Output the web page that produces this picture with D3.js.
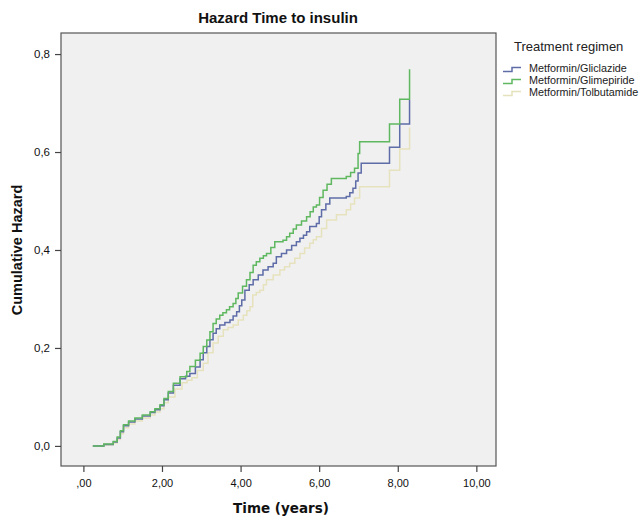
<!DOCTYPE html>
<html><head><meta charset="utf-8">
<script src="https://cdn.jsdelivr.net/npm/d3@7/dist/d3.min.js"></script>
<style>body{margin:0;background:#fff;}svg{display:block;}</style>
</head><body>
<svg id="chart" width="644" height="518"></svg>
<script>
const title = "Hazard Time to insulin";
const xLabel = "Time (years)";
const yLabel = "Cumulative Hazard";
const legendTitle = "Treatment regimen";
const seriesNames = ["Metformin/Gliclazide", "Metformin/Glimepiride", "Metformin/Tolbutamide"];
const xTicks = [0, 2, 4, 6, 8, 10];
const xTickLabels = [",00", "2,00", "4,00", "6,00", "8,00", "10,00"];
const yTicks = [0, 0.2, 0.4, 0.6, 0.8];
const yTickLabels = ["0,0", "0,2", "0,4", "0,6", "0,8"];

// step points [time, cumulative hazard]
const gliclazide = [[0.24,0],[0.52,0.003],[0.76,0.008],[0.86,0.016],[0.94,0.029],[1.02,0.041],[1.15,0.049],[1.31,0.055],[1.50,0.061],[1.70,0.068],[1.82,0.074],[1.95,0.082],[2.05,0.094],[2.16,0.108],[2.29,0.124],[2.46,0.137],[2.60,0.142],[2.71,0.148],[2.85,0.161],[2.97,0.176],[3.05,0.190],[3.14,0.203],[3.22,0.217],[3.30,0.230],[3.38,0.239],[3.47,0.247],[3.60,0.252],[3.73,0.257],[3.81,0.265],[3.90,0.274],[3.97,0.286],[4.03,0.298],[4.11,0.318],[4.22,0.329],[4.32,0.339],[4.45,0.349],[4.57,0.359],[4.70,0.366],[4.83,0.373],[4.91,0.386],[5.04,0.393],[5.17,0.400],[5.30,0.409],[5.42,0.417],[5.51,0.424],[5.60,0.430],[5.68,0.437],[5.76,0.448],[5.93,0.454],[6.00,0.468],[6.06,0.482],[6.17,0.494],[6.27,0.506],[6.69,0.509],[6.78,0.517],[6.86,0.526],[6.93,0.541],[6.99,0.557],[7.07,0.577],[7.79,0.610],[8.05,0.657],[8.30,0.706]];
const glimepiride = [[0.24,0],[0.52,0.004],[0.76,0.009],[0.86,0.018],[0.94,0.031],[1.02,0.043],[1.15,0.051],[1.31,0.057],[1.50,0.063],[1.70,0.070],[1.82,0.076],[1.95,0.084],[2.05,0.097],[2.16,0.111],[2.29,0.128],[2.46,0.141],[2.63,0.152],[2.71,0.162],[2.85,0.175],[2.97,0.189],[3.05,0.203],[3.14,0.216],[3.22,0.233],[3.30,0.250],[3.38,0.259],[3.47,0.267],[3.55,0.272],[3.64,0.278],[3.72,0.284],[3.81,0.291],[3.88,0.301],[3.94,0.312],[4.05,0.326],[4.15,0.339],[4.24,0.354],[4.32,0.369],[4.40,0.376],[4.49,0.383],[4.58,0.388],[4.66,0.393],[4.77,0.405],[4.87,0.417],[5.08,0.420],[5.17,0.427],[5.25,0.434],[5.34,0.443],[5.42,0.451],[5.55,0.459],[5.68,0.468],[5.77,0.478],[5.85,0.488],[5.93,0.492],[6.01,0.507],[6.10,0.522],[6.20,0.534],[6.31,0.546],[6.69,0.550],[6.80,0.558],[6.90,0.567],[6.99,0.597],[7.03,0.621],[7.79,0.657],[8.05,0.708],[8.30,0.769]];
const tolbutamide = [[0.24,0],[0.52,0.002],[0.76,0.006],[0.86,0.013],[0.94,0.025],[1.02,0.037],[1.15,0.045],[1.31,0.051],[1.50,0.057],[1.70,0.063],[1.82,0.069],[1.95,0.076],[2.05,0.088],[2.16,0.100],[2.33,0.116],[2.51,0.129],[2.64,0.134],[2.76,0.139],[2.90,0.154],[3.05,0.169],[3.17,0.190],[3.30,0.210],[3.43,0.224],[3.56,0.237],[3.68,0.242],[3.81,0.247],[3.94,0.257],[4.07,0.267],[4.16,0.276],[4.24,0.284],[4.31,0.308],[4.40,0.313],[4.49,0.318],[4.58,0.329],[4.66,0.339],[4.83,0.349],[5.00,0.359],[5.12,0.366],[5.25,0.373],[5.38,0.383],[5.51,0.393],[5.63,0.404],[5.76,0.414],[5.85,0.421],[5.93,0.427],[6.06,0.444],[6.19,0.461],[6.44,0.472],[6.69,0.482],[6.80,0.494],[6.90,0.506],[7.03,0.529],[7.79,0.563],[8.05,0.606],[8.30,0.650]];

const seriesData = [gliclazide, glimepiride, tolbutamide];
const colors = ["#5e6ca8", "#5fb85f", "#e6e2bd"];

const svg = d3.select("#chart");
const plot = {left: 61, right: 496, top: 33, bottom: 466};

const x = d3.scaleLinear().domain([-0.57, 10.5]).range([plot.left, plot.right]);
const y = d3.scaleLinear().domain([-0.041, 0.843]).range([plot.bottom, plot.top]);

svg.append("rect").attr("x", plot.left).attr("y", plot.top)
  .attr("width", plot.right - plot.left).attr("height", plot.bottom - plot.top)
  .attr("fill", "#f0f0f0");

const line = d3.line().x(d => x(d[0])).y(d => y(d[1])).curve(d3.curveStepAfter);
[2, 0, 1].forEach(i => {
  svg.append("path").datum(seriesData[i]).attr("d", line)
    .attr("fill", "none").attr("stroke", colors[i]).attr("stroke-width", 1.5);
});

svg.append("rect").attr("x", plot.left).attr("y", plot.top)
  .attr("width", plot.right - plot.left).attr("height", plot.bottom - plot.top)
  .attr("fill", "none").attr("stroke", "#555").attr("stroke-width", 1.2);

const xAxis = d3.axisBottom(x).tickValues(xTicks).tickSize(6).tickFormat((d, i) => xTickLabels[i]);
const gx = svg.append("g").attr("transform", `translate(0,${plot.bottom})`).call(xAxis);
gx.select(".domain").remove();
gx.selectAll(".tick line").attr("stroke", "#444").attr("stroke-width", 1.2);
gx.selectAll(".tick text").attr("font-family", "Liberation Sans, Arial, sans-serif")
  .attr("font-size", 11).attr("fill", "#111").attr("dy", "0.95em").attr("y", 11);

const yAxis = d3.axisLeft(y).tickValues(yTicks).tickSize(6).tickFormat((d, i) => yTickLabels[i]);
const gy = svg.append("g").attr("transform", `translate(${plot.left},0)`).call(yAxis);
gy.select(".domain").remove();
gy.selectAll(".tick line").attr("stroke", "#444").attr("stroke-width", 1.2);
gy.selectAll(".tick text").attr("font-family", "Liberation Sans, Arial, sans-serif")
  .attr("font-size", 11.5).attr("fill", "#111").attr("x", -11);

svg.append("text").attr("x", 278).attr("y", 23).attr("text-anchor", "middle")
  .attr("font-family", "Liberation Sans, Arial, sans-serif").attr("font-weight", "bold")
  .attr("font-size", 15).attr("fill", "#111").text(title);

svg.append("text").attr("x", 281).attr("y", 513).attr("text-anchor", "middle")
  .attr("font-family", "DejaVu Sans, Verdana, sans-serif").attr("font-weight", "bold")
  .attr("font-size", 13.5).attr("fill", "#111").text(xLabel);

svg.append("text").attr("transform", "translate(22,250) rotate(-90)").attr("text-anchor", "middle")
  .attr("font-family", "Liberation Sans, Arial, sans-serif").attr("font-weight", "bold")
  .attr("font-size", 14.5).attr("fill", "#111").text(yLabel);

svg.append("text").attr("x", 514).attr("y", 51)
  .attr("font-family", "Liberation Sans, Arial, sans-serif").attr("font-size", 13)
  .attr("fill", "#222").text(legendTitle);

const lg = svg.append("g");
seriesNames.forEach((name, i) => {
  const yy = 71.5 + i * 12;
  lg.append("path")
    .attr("d", `M503,${yy} L512,${yy} L512,${yy - 4} L521,${yy - 4}`)
    .attr("fill", "none").attr("stroke", colors[i]).attr("stroke-width", 1.5);
  lg.append("text").attr("x", 529).attr("y", yy + 0.5)
    .attr("font-family", "Liberation Sans, Arial, sans-serif").attr("font-size", 10.8)
    .attr("fill", "#222").text(name);
});
</script>
</body></html>
